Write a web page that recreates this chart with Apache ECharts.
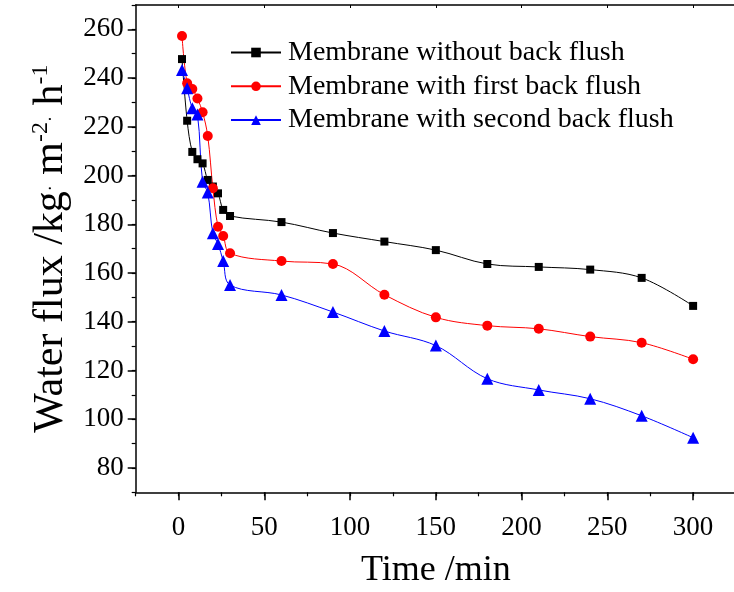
<!DOCTYPE html>
<html>
<head>
<meta charset="utf-8">
<script src="https://cdn.jsdelivr.net/npm/echarts@6/dist/echarts.min.js"></script>
<style>
  html, body { margin: 0; padding: 0; background: #fff; }
  #main { width: 734px; height: 592px; }
</style>
</head>
<body>
<div id="main"></div>
<script>
// time in minutes, shared by all three curves
const times = [2, 5, 8, 11, 14, 17, 20, 23, 26, 30, 60, 90, 120, 150, 180, 210, 240, 270, 300];
const noFlush = [247.8, 222.5, 209.7, 206.7, 205.0, 198.2, 195.5, 192.7, 185.9, 183.4, 180.9, 176.4, 172.9, 169.4, 163.7, 162.5, 161.4, 158.0, 146.5];
const firstFlush = [257.3, 237.9, 235.5, 231.6, 226.0, 216.2, 194.8, 179.0, 175.2, 168.1, 164.9, 163.7, 151.1, 141.8, 138.4, 137.1, 133.9, 131.4, 124.6];
const secondFlush = [243.3, 235.8, 227.6, 225.1, 197.5, 193.0, 176.3, 171.9, 164.9, 155.1, 151.0, 144.0, 136.2, 130.2, 116.6, 112.0, 108.4, 101.4, 92.4];
const names = ['Membrane without back flush', 'Membrane with first back flush', 'Membrane with second back flush'];
const xTicks = [0, 50, 100, 150, 200, 250, 300];
const yTicks = [80, 100, 120, 140, 160, 180, 200, 220, 240, 260];

const font = 'Liberation Serif';
const pairs = (ys) => times.map((t, i) => [t, ys[i]]);

const chart = echarts.init(document.getElementById('main'));

const lineSeries = (name, ys, color, symbol, size) => ({
  name: name,
  type: 'line',
  data: pairs(ys),
  smooth: 0.35,
  symbol: symbol,
  symbolSize: size,
  color: color,
  itemStyle: { color: color },
  lineStyle: { color: color, width: 1 },
  emphasis: { disabled: true }
});

const black = { color: '#000', width: 1.5 };

chart.setOption({
  animation: false,
  grid: { left: 135.7, right: -2, top: 5, bottom: 99.7, outerBoundsMode: 'none', containLabel: false },
  legend: {
    orient: 'vertical',
    left: 230,
    top: 38.5,
    padding: 0,
    itemWidth: 50,
    itemHeight: 12,
    itemGap: 5.8,
    data: names,
    textStyle: { fontFamily: font, fontSize: 28, color: '#000', lineHeight: 28, padding: [0, 0, 0, 2] }
  },
  xAxis: [{
    // main bottom axis: major ticks and labels
    type: 'value',
    min: -25,
    max: 325,
    interval: 25,
    name: 'Time /min',
    nameLocation: 'middle',
    nameGap: 60,
    nameTextStyle: { fontFamily: font, fontSize: 36, color: '#000' },
    axisLine: { onZero: false, lineStyle: black },
    axisTick: { length: 8, customValues: xTicks, lineStyle: black },
    axisLabel: { margin: 22, fontFamily: font, fontSize: 27, color: '#000', customValues: xTicks },
    splitLine: { show: false }
  }, {
    // minor ticks every 25
    type: 'value',
    position: 'bottom',
    min: -25,
    max: 325,
    interval: 25,
    axisLine: { show: false, onZero: false },
    axisTick: { show: true, length: 4, lineStyle: { color: '#000', width: 1.2 } },
    axisLabel: { show: false },
    splitLine: { show: false }
  }, {
    // top frame line
    type: 'value',
    position: 'top',
    min: -25,
    max: 325,
    interval: 25,
    axisLine: { show: true, onZero: false, lineStyle: black },
    axisTick: { show: true, inside: true, length: 3, customValues: xTicks, lineStyle: { color: '#000' } },
    axisLabel: { show: false },
    splitLine: { show: false }
  }],
  yAxis: [{
    type: 'value',
    min: 70,
    max: 270,
    interval: 10,
    name: '{a|Water flux /kg}{d|·}{a| m}{s|-2}{d|·}{a| h}{s|-1}',
    nameLocation: 'middle',
    nameGap: 60,
    nameRotate: 90,
    nameTextStyle: {
      color: '#000',
      rich: {
        a: { fontFamily: font, fontSize: 42, lineHeight: 46, color: '#000' },
        s: { fontFamily: font, fontSize: 24, lineHeight: 46, verticalAlign: 'top', color: '#000' },
        d: { fontFamily: font, fontSize: 18, lineHeight: 46, verticalAlign: 'middle', color: '#000' }
      }
    },
    axisLine: { show: true, onZero: false, lineStyle: black },
    axisTick: { length: 8, customValues: yTicks, lineStyle: black },
    axisLabel: { margin: 12, fontFamily: font, fontSize: 27, color: '#000', customValues: yTicks },
    splitLine: { show: false }
  }, {
    // minor ticks every 10
    type: 'value',
    position: 'left',
    min: 70,
    max: 270,
    interval: 10,
    axisLine: { show: false, onZero: false },
    axisTick: { show: true, length: 4, lineStyle: { color: '#000', width: 1.2 } },
    axisLabel: { show: false },
    splitLine: { show: false }
  }],
  series: [
    lineSeries(names[0], noFlush, '#000000', 'rect', 8),
    lineSeries(names[1], firstFlush, '#ff0000', 'circle', 10),
    lineSeries(names[2], secondFlush, '#0000ff', 'triangle', 12)
  ]
});
</script>
</body>
</html>
